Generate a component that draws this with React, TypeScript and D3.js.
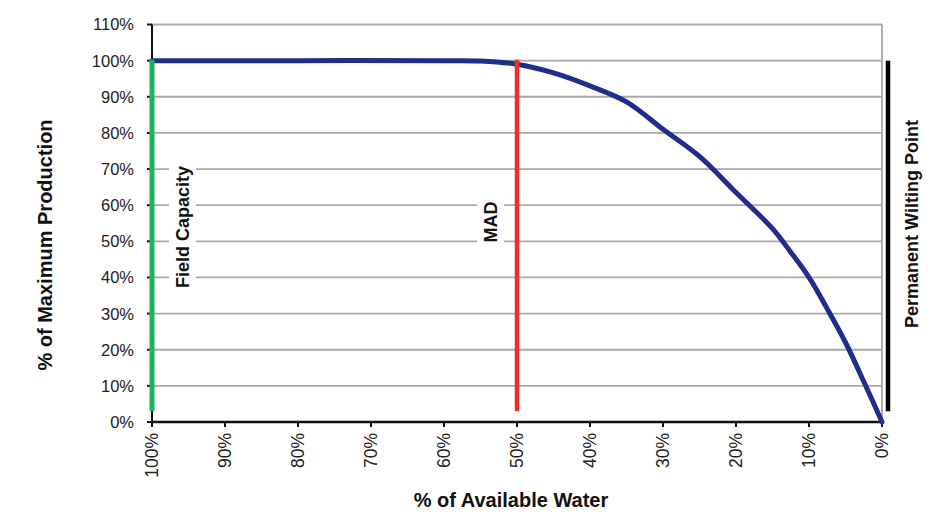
import React from "react";
import * as d3 from "d3";

const waterPct = [100, 80, 60, 55, 50, 45, 40, 35, 30, 25, 20, 15, 12.5, 10, 7.5, 5, 2.5, 0];
const productionPct = [100, 100, 100, 99.9, 99, 96.6, 93, 88.6, 81, 73.5, 63.5, 53.5, 47, 40, 31.3, 22, 11.2, 0];
const xTicks = [100, 90, 80, 70, 60, 50, 40, 30, 20, 10, 0];
const yTicks = [0, 10, 20, 30, 40, 50, 60, 70, 80, 90, 100, 110];
const markers = [
  { name: "Field Capacity", water: 100, color: "#21b35b" },
  { name: "MAD", water: 50, color: "#ec2f2a" },
];
const pwpLabel = "Permanent Wilting Point";
const xTitle = "% of Available Water";
const yTitle = "% of Maximum Production";

export default function App() {
  const W = 936, H = 517;
  const x = d3.scaleLinear().domain([100, 0]).range([152, 882]);
  const y = d3.scaleLinear().domain([0, 110]).range([422, 24.5]);
  const data = waterPct.map((w, i) => ({ w, p: productionPct[i] }));
  const line = d3.line<{ w: number; p: number }>()
    .x(d => x(d.w))
    .y(d => y(d.p))
    .curve(d3.curveCatmullRom.alpha(0.5));
  const font = "Arial, 'Liberation Sans', sans-serif";
  const lineBottom = 3;

  return (
    <svg width={W} height={H} style={{ position: "absolute", left: 0, top: 0, background: "#fff" }}>
      {/* gridlines */}
      {yTicks.filter(t => t > 0).map(t => (
        <line key={t} x1={x(100)} x2={x(0)} y1={y(t)} y2={y(t)} stroke="#a8a8a8" strokeWidth={1.8} />
      ))}
      <line x1={x(0)} x2={x(0)} y1={y(110)} y2={y(0)} stroke="#a8a8a8" strokeWidth={1.8} />

      {/* axes */}
      <line x1={x(100)} x2={x(100)} y1={y(110)} y2={y(0) + 1} stroke="#111" strokeWidth={2} />
      <line x1={x(100)} x2={x(0) + 1} y1={y(0)} y2={y(0)} stroke="#111" strokeWidth={2.5} />
      {yTicks.map(t => (
        <g key={t}>
          <line x1={x(100) - 5} x2={x(100)} y1={y(t)} y2={y(t)} stroke="#111" strokeWidth={2} />
          <text x={134} y={y(t)} dy="0.36em" textAnchor="end" fontFamily={font} fontSize={16.5} fill="#222">{t}%</text>
        </g>
      ))}
      {xTicks.map(t => (
        <g key={t}>
          <line x1={x(t)} x2={x(t)} y1={y(0)} y2={y(0) + 5} stroke="#111" strokeWidth={2} />
          <text transform={`translate(${x(t)},${y(0) + 11}) rotate(-90)`} dy="0.36em" textAnchor="end" fontFamily={font} fontSize={17.5} fill="#222">{t}%</text>
        </g>
      ))}

      {/* marker labels with white backgrounds */}
      {markers.map(m => {
        const lx = m.water === 100 ? x(m.water) + 31 : x(m.water) - 26;
        const cy = m.water === 100 ? 227 : 222;
        const len = m.water === 100 ? 124 : 44;
        return (
          <g key={m.name}>
            <rect x={lx - 14} y={cy - len / 2 - 4} width={27} height={len + 8} fill="#fff" />
            <text transform={`translate(${lx},${cy}) rotate(-90)`} dy="0.36em" textAnchor="middle" fontFamily={font} fontWeight="bold" fontSize={18} fill="#111">{m.name}</text>
          </g>
        );
      })}

      {/* curve */}
      <path d={line(data) || ""} fill="none" stroke="#1f2e8c" strokeWidth={5} strokeLinejoin="round" strokeLinecap="round" />

      {/* vertical marker lines */}
      {markers.map(m => (
        <line key={m.name} x1={x(m.water)} x2={x(m.water)} y1={y(100) - 1} y2={y(lineBottom)} stroke={m.color} strokeWidth={m.water === 100 ? 5 : 4.5} />
      ))}
      <line x1={x(0) + 6} x2={x(0) + 6} y1={y(100)} y2={y(lineBottom)} stroke="#000" strokeWidth={4.5} />
      <text transform={`translate(${x(0) + 30},${224}) rotate(-90)`} dy="0.36em" textAnchor="middle" fontFamily={font} fontWeight="bold" fontSize={18} fill="#111">{pwpLabel}</text>

      {/* axis titles */}
      <text x={511} y={507} textAnchor="middle" fontFamily={font} fontWeight="bold" fontSize={20} fill="#111">{xTitle}</text>
      <text transform={`translate(45,245) rotate(-90)`} dy="0.36em" textAnchor="middle" fontFamily={font} fontWeight="bold" fontSize={20} fill="#111">{yTitle}</text>
    </svg>
  );
}
